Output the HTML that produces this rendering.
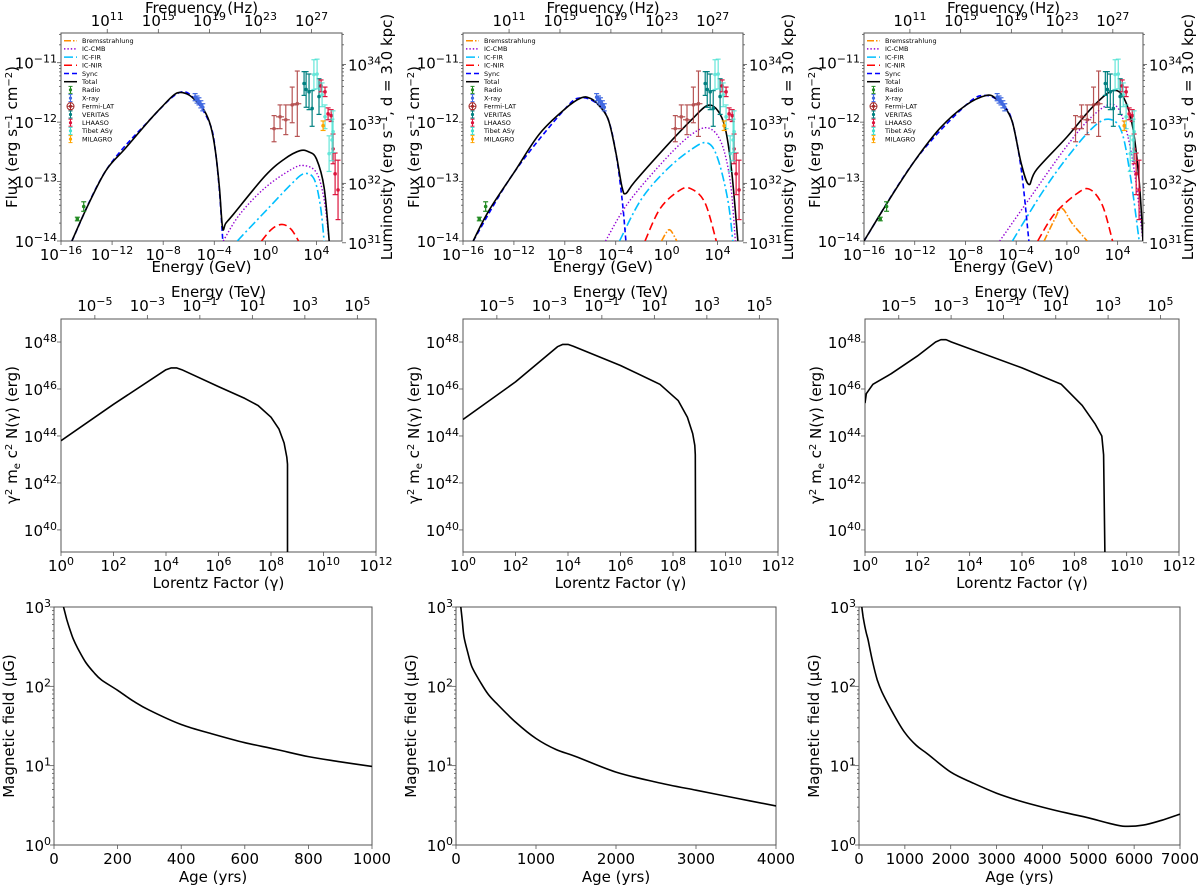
<!DOCTYPE html>
<html><head><meta charset="utf-8"><title>PWN model fits</title>
<style>
html,body{margin:0;padding:0;background:#fff;}
svg{display:block;font-family:"DejaVu Sans","Liberation Sans",sans-serif;}
</style></head>
<body>
<svg id="fig" width="1200" height="886" viewBox="0 0 1200 886" xmlns="http://www.w3.org/2000/svg"></svg>
<script>
// ---------- SED data (log10 E [GeV], log10 flux) ----------
const sedTotal1 = [[-15.15,-14],[-14,-13.45],[-12.5,-12.82],[-11,-12.45],[-9,-11.95],[-8,-11.72],[-7.2,-11.55],[-6.7,-11.5],[-6,-11.54],[-5.4,-11.65],[-4.8,-11.8],[-4.3,-12.05],[-3.9,-12.5],[-3.6,-13.1],[-3.35,-13.78],[-3.1,-13.7],[-2.5,-13.55],[0,-12.9],[1.5,-12.62],[2.7,-12.48],[3.4,-12.5],[4,-12.62],[4.6,-13.1],[5.0,-14]];
const sedSync1 = [[-15.15,-14],[-12.5,-12.82],[-9,-11.95],[-6.7,-11.5],[-5.4,-11.65],[-4.3,-12.05],[-3.9,-12.5],[-3.6,-13.15],[-3.35,-13.95],[-3.3,-14.2]];
const sedCMB1 = [[-3.3,-14],[-2,-13.55],[0,-13.1],[2,-12.8],[3,-12.73],[4,-12.85],[4.6,-13.3],[5.0,-14]];
const sedFIR1 = [[-2.2,-14],[0,-13.5],[2,-13.05],[3,-12.87],[3.8,-12.95],[4.3,-13.4],[4.6,-14]];
const sedNIR1 = [[-0.3,-14],[0.5,-13.8],[1.3,-13.72],[2,-13.8],[2.6,-14]];
const sedBrem1 = [];

const sedTotal2 = [[-15.2,-14],[-14,-13.5],[-12,-12.85],[-10,-12.2],[-8,-11.78],[-6.7,-11.59],[-6,-11.6],[-5.4,-11.7],[-4.6,-11.95],[-4,-12.5],[-3.5,-13.1],[-3.2,-13.2],[-2.5,-13.0],[0,-12.4],[2,-11.95],[3.2,-11.72],[4,-11.8],[4.6,-12.1],[5.1,-12.8],[5.6,-14]];
const sedSync2 = [[-15.2,-14],[-12,-12.85],[-8,-11.78],[-6.7,-11.59],[-5.4,-11.7],[-4.6,-11.95],[-4,-12.5],[-3.5,-13.3],[-3.2,-14.0],[-3.1,-14.2]];
const sedCMB2 = [[-4.8,-14],[-3,-13.35],[0,-12.6],[2,-12.2],[3.3,-12.1],[4.3,-12.35],[5,-13],[5.4,-14]];
const sedFIR2 = [[-3.7,-14],[-2,-13.3],[0,-12.8],[2,-12.45],[3.2,-12.35],[4.0,-12.6],[4.8,-13.3],[5.2,-14]];
const sedNIR2 = [[-1.7,-14],[-0.5,-13.45],[1,-13.15],[1.9,-13.12],[3,-13.35],[3.9,-14]];
const sedBrem2 = [[-0.4,-14],[0,-13.85],[0.3,-13.82],[0.8,-14]];

const sedTotal3 = [[-16,-14],[-14,-13.3],[-12,-12.65],[-10,-12.1],[-8,-11.72],[-6.35,-11.55],[-5.6,-11.6],[-5,-11.72],[-4.3,-12.0],[-3.6,-12.7],[-3.0,-13.05],[-2.4,-12.8],[0,-12.25],[2,-11.75],[3.6,-11.47],[4.5,-11.6],[5.2,-12.1],[5.7,-13.0],[6.0,-14]];
const sedSync3 = [[-16,-14],[-12,-12.65],[-8,-11.72],[-6.35,-11.55],[-5,-11.72],[-4.3,-12.0],[-3.6,-12.8],[-3.0,-14.0],[-2.9,-14.2]];
const sedCMB3 = [[-5.3,-14],[-3,-13.3],[0,-12.4],[2,-11.9],[3.6,-11.7],[4.5,-12],[5.3,-12.8],[6,-14]];
const sedFIR3 = [[-4.3,-14],[-2,-13.2],[0,-12.6],[2,-12.1],[3.3,-11.95],[4.3,-12.15],[5,-12.9],[5.7,-14]];
const sedNIR3 = [[-2.3,-14],[-1,-13.55],[0.8,-13.2],[1.8,-13.13],[2.8,-13.4],[3.6,-14]];
const sedBrem3 = [[-1.8,-14],[-1,-13.65],[-0.4,-13.45],[0.4,-13.7],[1.6,-14]];

// ---------- observational points [log E, log F, err dex] ----------
const obsRadio = [[-14.72,-13.63,0.03],[-14.22,-13.42,0.08]];
const obsXray = [[-5.5,-11.58,0.06],[-5.35,-11.62,0.06],[-5.2,-11.65,0.06],[-5.05,-11.7,0.06],[-4.9,-11.75,0.06]];
const obsFermi = [[0.68,-12.11,0.22],[1.15,-11.91,0.2],[1.6,-11.96,0.25],[2.1,-11.71,0.3],[2.5,-11.69,0.55]];
const obsVeritas = [[3.03,-11.35,0.2],[3.19,-11.45,0.3],[3.42,-11.49,0.3],[3.66,-11.77,0.3],[4.2,-11.57,0.3]];
const obsTibet = [[3.8,-11.2,0.25],[4.05,-11.19,0.25],[4.44,-11.54,0.2],[4.67,-11.91,0.2],[4.99,-12.53,0.3],[5.22,-12.3,0.35],[5.3,-12.16,0.35]];
const obsLhaaso = [[4.36,-11.39,0.1],[4.67,-11.49,0.08],[4.91,-11.86,0.1],[5.15,-11.89,0.1],[5.3,-12.45,0.25],[5.46,-12.87,0.35],[5.69,-13.14,0.5]];
const obsMilagro = [[4.52,-12.06,0.08]];

// ---------- electron spectra (log gamma, log E) ----------
const elec1 = [[0,43.8],[2,45.35],[4.0,46.82],[4.2,46.9],[4.4,46.9],[4.6,46.82],[6,46.1],[7,45.6],[7.5,45.3],[8,44.8],[8.3,44.3],[8.5,43.7],[8.6,43.1],[8.63,42.8],[8.63,39.0]];
const elec2 = [[0,44.7],[2,46.3],[3.6,47.8],[3.8,47.9],[4.0,47.9],[4.2,47.82],[6,47.0],[7.5,46.2],[8.2,45.5],[8.55,44.8],[8.75,44.1],[8.83,43.6],[8.85,43.2],[8.86,39.0]];
const elec3 = [[0,45.4],[0.05,45.8],[0.3,46.2],[1,46.65],[2,47.4],[2.7,48.0],[2.9,48.1],[3.1,48.1],[3.3,48.0],[6,46.9],[7.5,46.2],[8.3,45.3],[8.8,44.5],[9.05,44.0],[9.12,43.2],[9.17,39.0]];

// ---------- magnetic field evolution (age yrs, B muG) ----------
const bfield1 = [[30,1000],[40,700],[50,520],[60,400],[75,300],[100,200],[125,150],[150,120],[200,89],[250,65],[300,50],[400,33],[500,25],[600,19.5],[700,16],[800,13],[900,11.2],[1000,9.8]];
const bfield2 = [[60,1000],[80,650],[100,420],[150,260],[200,175],[300,115],[400,80],[500,62],[750,35],[1000,22],[1250,16],[1500,13],[2000,8.3],[2500,6.2],[3000,4.9],[3500,3.9],[4000,3.1]];
const bfield3 = [[60,1000],[90,750],[120,600],[160,470],[200,380],[300,200],[400,120],[500,85],[750,45],[1000,26],[1250,18],[1500,14],[2000,8.3],[2500,6],[3000,4.5],[3500,3.6],[4000,3.0],[4500,2.55],[5000,2.2],[5500,1.85],[5800,1.72],[6200,1.78],[6600,2.05],[7000,2.45]];

// ---------- tick values ----------
const sedXTicks = [-16,-12,-8,-4,0,4];
const sedYTicks = [-14,-13,-12,-11];
const freqTicks = [11,15,19,23,27];
const lumTicks = [31,32,33,34];
const gammaTicks = [0,2,4,6,8,10,12];
const elecYTicks = [40,42,44,46,48];
const tevTicks = [-5,-3,-1,1,3,5];
const bYTicks = [0,1,2,3];
const ageTicks1 = [0,200,400,600,800,1000];
const ageTicks2 = [0,1000,2000,3000,4000];
const ageTicks3 = [0,1000,2000,3000,4000,5000,6000,7000];

const NS = "http://www.w3.org/2000/svg";
const fig = document.getElementById('fig');
const FS = 15;
function mk(tag, parent, attrs){ const e=document.createElementNS(NS,tag); for(const k in attrs) e.setAttribute(k,attrs[k]); parent.appendChild(e); return e; }
function pow10(parent, x, y, exp, anchor, size){
  size = size||FS;
  const t = mk('text', parent, {x:x, y:y, 'font-size':size, 'text-anchor':anchor||'middle', fill:'#000'});
  
  
  const a = document.createElementNS(NS,'tspan'); a.textContent='10'; t.appendChild(a);
  const b = document.createElementNS(NS,'tspan'); b.setAttribute('dy','-6'); b.setAttribute('font-size', Math.round(size*0.7)); b.textContent = String(exp).replace('-', '\u2212'); t.appendChild(b);
  return t;
}
function plain(parent, x, y, txt, size, anchor, rot){
  const t = mk('text', parent, {x:x, y:y, 'font-size':size, 'text-anchor':anchor||'middle', fill:'#000'});
  if(rot) t.setAttribute('transform', `rotate(${rot} ${x} ${y})`);
  t.textContent = txt;
  return t;
}
let clipId = 0;
function axesFrame(g, x0,x1,y0,y1){
  const id = 'clip'+(clipId++);
  const cp = mk('clipPath', g, {id:id}); mk('rect', cp, {x:x0,y:y0,width:x1-x0,height:y1-y0});
  const r = mk('rect', g, {x:x0,y:y0,width:x1-x0,height:y1-y0,fill:'none',stroke:'#555','stroke-width':1});
  
  
  return id;
}
function tick(g,x1,y1,x2,y2){ mk('line', g, {x1:x1,y1:y1,x2:x2,y2:y2,stroke:'#555','stroke-width':0.8}); }
function pathD(P, smooth){
  if(!smooth || P.length<3) return P.map((p,i)=>(i?'L':'M')+p[0].toFixed(1)+','+p[1].toFixed(1)).join(' ');
  let d = 'M'+P[0][0].toFixed(1)+','+P[0][1].toFixed(1);
  for(let i=0;i<P.length-1;i++){
    const p0=P[Math.max(i-1,0)], p1=P[i], p2=P[i+1], p3=P[Math.min(i+2,P.length-1)];
    const c1=[p1[0]+(p2[0]-p0[0])/6, p1[1]+(p2[1]-p0[1])/6];
    const c2=[p2[0]-(p3[0]-p1[0])/6, p2[1]-(p3[1]-p1[1])/6];
    d += ` C${c1[0].toFixed(1)},${c1[1].toFixed(1)} ${c2[0].toFixed(1)},${c2[1].toFixed(1)} ${p2[0].toFixed(1)},${p2[1].toFixed(1)}`;
  }
  return d;
}
function curve(g, pts, sx, sy, style, clip, name, smooth){
  if(!pts.length) return null;
  const P = pts.map(p=>[sx(p[0]), sy(p[1])]);
  const p = mk('path', g, Object.assign({d:pathD(P, smooth), fill:'none', 'clip-path':`url(#${clip})`, 'stroke-linejoin':'round'}, style));
  
  
  return p;
}
const styles = {
  brem:{stroke:'#ff8c00','stroke-width':1.6,'stroke-dasharray':'7 2 1.5 2'},
  cmb:{stroke:'#9400d3','stroke-width':1.4,'stroke-dasharray':'1.4 2'},
  fir:{stroke:'#00bfff','stroke-width':1.6,'stroke-dasharray':'9 3 2 3'},
  nir:{stroke:'#ff0000','stroke-width':1.6,'stroke-dasharray':'8 4'},
  sync:{stroke:'#0000ff','stroke-width':1.6,'stroke-dasharray':'5 3'},
  total:{stroke:'#000','stroke-width':1.6}
};
const obsColors = {radio:'#228b22', xray:'#4169e1', fermi:'#a52a2a', veritas:'#008080', lhaaso:'#dc143c', tibet:'#40e0d0', milagro:'#ffa500'};

function sedPanel(x0, x1, sets, idx){
  const y0=33, y1=241, xmin=-16, xmax=6, ymin=-14, ymax=-10.5;
  const g = mk('g', fig, {});
  
  
  const sx = v => x0 + (v-xmin)/(xmax-xmin)*(x1-x0);
  const sy = v => y1 - (v-ymin)/(ymax-ymin)*(y1-y0);
  const clip = axesFrame(g,x0,x1,y0,y1);
  sedXTicks.forEach(t=>{ tick(g,sx(t),y1,sx(t),y1+4); pow10(g,sx(t),y1+19,t); });
  sedYTicks.forEach(t=>{ tick(g,x0-4,sy(t),x0,sy(t)); pow10(g,x0-4,sy(t)+6,t,'end'); });
  for(let d=-14; d<-10; d++) for(let k=2;k<10;k++){ const v=d+Math.log10(k); if(v<=ymax){ tick(g,x0-2,sy(v),x0,sy(v)); tick(g,x1,sy(v),x1+2,sy(v)); } }
  freqTicks.forEach(t=>{ const e=t-23.38; tick(g,sx(e),y0-4,sx(e),y0); pow10(g,sx(e),y0-7,t); });
  lumTicks.forEach(t=>{ const f=t-45.03; tick(g,x1,sy(f),x1+4,sy(f)); pow10(g,x1+6,sy(f)+6,t,'start'); });
  plain(g,(x0+x1)/2,272,'Energy (GeV)',FS);
  plain(g,(x0+x1)/2,13,'Frequency (Hz)',FS);
  const yl = mk('text', g, {x:x0-44,y:137,'font-size':FS,'text-anchor':'middle',transform:`rotate(-90 ${x0-44} 137)`});
  
  
  yl.innerHTML = 'Flux (erg s<tspan dy="-5" font-size="10">\u22121</tspan><tspan dy="5"> cm</tspan><tspan dy="-5" font-size="10">\u22122</tspan><tspan dy="5">)</tspan>';
  const rl = mk('text', g, {x:x1+50,y:137,'font-size':FS,'text-anchor':'middle',transform:`rotate(-90 ${x1+50} 137)`});
  
  
  rl.innerHTML = 'Luminosity (erg s<tspan dy="-5" font-size="10">\u22121</tspan><tspan dy="5">, d = 3.0 kpc)</tspan>';
  curve(g, sets.brem, sx, sy, styles.brem, clip, 'bremsstrahlung-curve', true);
  curve(g, sets.cmb, sx, sy, styles.cmb, clip, 'ic-cmb-curve', true);
  curve(g, sets.fir, sx, sy, styles.fir, clip, 'ic-fir-curve', true);
  curve(g, sets.nir, sx, sy, styles.nir, clip, 'ic-nir-curve', true);
  curve(g, sets.sync, sx, sy, styles.sync, clip, 'sync-curve', true);
  curve(g, sets.total, sx, sy, styles.total, clip, 'total-curve', true);
  const obs = [['radio',obsRadio],['xray',obsXray],['fermi',obsFermi],['veritas',obsVeritas],['lhaaso',obsLhaaso],['tibet',obsTibet],['milagro',obsMilagro]];
  obs.forEach(([nm,arr])=>{
    const c = obsColors[nm];
    arr.forEach(p=>{
      const px=sx(p[0]), py=sy(p[1]), ya=sy(p[1]+p[2]), yb=sy(p[1]-p[2]);
      const eg = mk('g', g, {stroke:c,'stroke-width':1.2,opacity: nm==='fermi'||nm==='tibet'?0.8:1});
      
      
      mk('line', eg, {x1:px,y1:ya,x2:px,y2:yb});
      mk('line', eg, {x1:px-2.5,y1:ya,x2:px+2.5,y2:ya});
      mk('line', eg, {x1:px-2.5,y1:yb,x2:px+2.5,y2:yb});
      if(nm==='fermi'){ mk('line', eg, {x1:px-4,y1:py,x2:px+4,y2:py}); }
      mk('circle', eg, {cx:px,cy:py,r:1.8,fill:c,stroke:'none'});
    });
  });
  const lg = mk('g', g, {});
  
  
  const lines = [['Bremsstrahlung','brem'],['IC-CMB','cmb'],['IC-FIR','fir'],['IC-NIR','nir'],['Sync','sync'],['Total','total']];
  const pts = [['Radio','radio'],['X-ray','xray'],['Fermi-LAT','fermi'],['VERITAS','veritas'],['LHAASO','lhaaso'],['Tibet AS\u03b3','tibet'],['MILAGRO','milagro']];
  let ly = 40.7;
  lines.forEach(([lab,k])=>{
    const s = Object.assign({}, styles[k]); s['stroke-width']=1.5;
    const ln = mk('line', lg, Object.assign({x1:x0+3,y1:ly,x2:x0+16,y2:ly}, s));
    
    
    plain(lg, x0+21, ly+2.3, lab, 6.5, 'start');
    ly += 8.2;
  });
  pts.forEach(([lab,k])=>{
    const c=obsColors[k], cx=x0+9.5;
    const pg = mk('g', lg, {stroke:c,'stroke-width':1});
    
    
    mk('line', pg, {x1:cx,y1:ly-3.5,x2:cx,y2:ly+3.5});
    mk('line', pg, {x1:cx-2,y1:ly-3.5,x2:cx+2,y2:ly-3.5});
    mk('line', pg, {x1:cx-2,y1:ly+3.5,x2:cx+2,y2:ly+3.5});
    if(k==='fermi'){ mk('circle', pg, {cx:cx,cy:ly,r:3.5,fill:'none'}); mk('line', pg, {x1:cx-3.5,y1:ly,x2:cx+3.5,y2:ly}); }
    mk('circle', pg, {cx:cx,cy:ly,r:1.6,fill:c,stroke:'none'});
    plain(lg, x0+21, ly+2.3, lab, 6.5, 'start');
    ly += 8.2;
  });
}

function elecPanel(x0, x1, data, idx){
  const y0=319, y1=552, xmin=0, xmax=12, ymin=39.06, ymax=48.98;
  const g = mk('g', fig, {});
  
  
  const sx = v => x0 + (v-xmin)/(xmax-xmin)*(x1-x0);
  const sy = v => y1 - (v-ymin)/(ymax-ymin)*(y1-y0);
  const clip = axesFrame(g,x0,x1,y0,y1);
  gammaTicks.forEach(t=>{ tick(g,sx(t),y1,sx(t),y1+4); pow10(g,sx(t),y1+19,t); });
  elecYTicks.forEach(t=>{ tick(g,x0-4,sy(t),x0,sy(t)); pow10(g,x0-4,sy(t)+6,t,'end'); });
  tevTicks.forEach(t=>{ const v=t+6.29; tick(g,sx(v),y0-4,sx(v),y0); pow10(g,sx(v),y0-8,t); });
  plain(g,(x0+x1)/2,588,'Lorentz Factor (\u03b3)',FS);
  plain(g,(x0+x1)/2,297,'Energy (TeV)',FS);
  const yl = mk('text', g, {x:x0-44,y:435,'font-size':FS,'text-anchor':'middle',transform:`rotate(-90 ${x0-44} 435)`});
  
  
  yl.innerHTML = '\u03b3<tspan dy="-5" font-size="10">2</tspan><tspan dy="5"> m</tspan><tspan dy="3" font-size="10">e</tspan><tspan dy="-3"> c</tspan><tspan dy="-5" font-size="10">2</tspan><tspan dy="5"> N(\u03b3) (erg)</tspan>';
  curve(g, data, sx, sy, styles.total, clip, 'electron-spectrum', false);
}

function bPanel(x0, x1, data, ticks, xmax, idx){
  const y0=607, y1=845, ymin=0, ymax=3;
  const g = mk('g', fig, {});
  
  
  const sx = v => x0 + v/xmax*(x1-x0);
  const sy = v => y1 - (v-ymin)/(ymax-ymin)*(y1-y0);
  const clip = axesFrame(g,x0,x1,y0,y1);
  ticks.forEach(t=>{ tick(g,sx(t),y1,sx(t),y1+4); const tl=plain(g,sx(t),y1+19,String(t),FS);  });
  bYTicks.forEach(t=>{ tick(g,x0-4,sy(t),x0,sy(t)); pow10(g,x0-3,sy(t)+6,t,'end'); });
  for(let d=0; d<3; d++) for(let k=2;k<10;k++){ const v=d+Math.log10(k); tick(g,x0-2,sy(v),x0,sy(v)); }
  plain(g,(x0+x1)/2,882,'Age (yrs)',FS);
  const yl = plain(g,x0-40,726,'Magnetic field (\u03bcG)',FS,'middle',-90);
  
  const logged = data.map(p=>[p[0], Math.log10(p[1])]);
  curve(g, logged, sx, sy, styles.total, clip, 'bfield-curve', true);
}

sedPanel(61, 342, {total:sedTotal1,sync:sedSync1,cmb:sedCMB1,fir:sedFIR1,nir:sedNIR1,brem:sedBrem1}, 1);
sedPanel(463, 743, {total:sedTotal2,sync:sedSync2,cmb:sedCMB2,fir:sedFIR2,nir:sedNIR2,brem:sedBrem2}, 2);
sedPanel(864, 1143, {total:sedTotal3,sync:sedSync3,cmb:sedCMB3,fir:sedFIR3,nir:sedNIR3,brem:sedBrem3}, 3);
elecPanel(61, 376, elec1, 1);
elecPanel(463, 778, elec2, 2);
elecPanel(865, 1179, elec3, 3);
bPanel(54, 372, bfield1, ageTicks1, 1000, 1);
bPanel(456, 776, bfield2, ageTicks2, 4000, 2);
bPanel(859, 1180, bfield3, ageTicks3, 7000, 3);
</script>
</body></html>
